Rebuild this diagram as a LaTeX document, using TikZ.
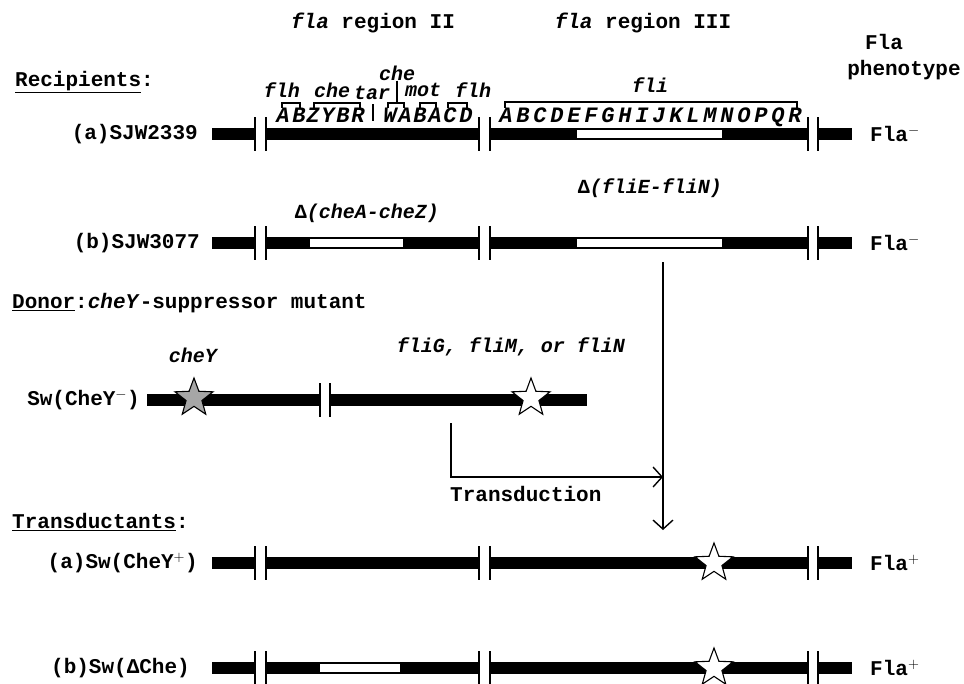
\documentclass[tikz,border=0pt]{standalone}
\usepackage{fontspec}
\setmainfont{Liberation Mono}
\usepackage{tikz}
\usetikzlibrary{shapes.geometric, arrows.meta, positioning}

\begin{document}
\begin{tikzpicture}[x=1pt, y=-1pt,
  txt/.style={font=\fontsize{21}{24}\selectfont\bfseries, inner sep=0pt},
  gene/.style={font=\fontsize{20}{24}\selectfont\bfseries\itshape, inner sep=0pt},
  letter/.style={font=\fontsize{22}{24}\selectfont\bfseries\itshape, inner sep=0pt, anchor=base},
  chrom/.style={line width=12pt},
  brk/.style={line width=1.2pt},
  mutstar/.style={star, star points=5, star point ratio=2.4, minimum size=40pt, inner sep=0pt, draw, line width=1.1pt, fill=white},
  arrow/.style={-{Straight Barb[length=9pt, width=20pt]}, line width=1.4pt}
]
  \useasboundingbox[fill=white] (0,0) rectangle (964,683);

  % titles
  \node[txt] (reg2) at (373,23) {\textit{fla} region II};
  \node[txt] (reg3) at (643,23) {\textit{fla} region III};
  \node[txt] (fla) at (884,42) {Fla};
  \node[txt] (pheno) at (904,70) {phenotype};
  \node[txt, anchor=west] (recip) at (15,82) {\underline{Recipients}:};

  % chromosomes, four rows with the same breaks
  \foreach \y in {134,243,563,668} {
    \draw[chrom] (212,\y) -- (255,\y) (266,\y) -- (479,\y) (490,\y) -- (808,\y) (818,\y) -- (852,\y);
    \foreach \x in {255,266,479,490,808,818}
      \draw[brk] (\x,\y-17) -- (\x,\y+17);
  }
  % deletions
  \fill[white] (577,130) rectangle (722,138);
  \fill[white] (310,239) rectangle (403,247);
  \fill[white] (577,239) rectangle (722,247);
  \fill[white] (320,664) rectangle (400,672);

  % gene map of region II
  \node[gene] (flh1) at (282,90) {flh};
  \node[gene] (che1) at (332,90) {che};
  \node[gene] (tar) at (372,93) {tar};
  \node[gene] (che2) at (397,73) {che};
  \node[gene] (mot) at (423,90) {mot};
  \node[gene] (flh2) at (473,90) {flh};
  \draw[brk] (282,108) -- (282,103) -- (300,103) -- (300,108);
  \draw[brk] (314,108) -- (314,103) -- (360,103) -- (360,108);
  \draw[brk] (388,108) -- (388,103) -- (404,103) -- (404,108);
  \draw[brk] (420,108) -- (420,103) -- (436,103) -- (436,108);
  \draw[brk] (448,108) -- (448,103) -- (467,103) -- (467,108);
  \draw[brk] (che2.south) -- (che2.south |- 0,103);
  \draw[brk] (373,104) -- (373,121);
  \foreach \l/\x in {A/283, B/299, Z/313, Y/328, B/343, R/358, W/390, A/405, B/420, A/435, C/450, D/466}
    \node[letter] (g\x) at (\x,122) {\l};

  % gene map of region III
  \node[gene] (fli) at (650,85) {fli};
  \draw[brk] (505,108) -- (505,102) -- (797,102) -- (797,108);
  \foreach \l [count=\i from 0] in {A,...,R}
    \node[letter] (fli\l) at (506+17*\i,122) {\l};

  % recipients
  \node[txt, anchor=east] (sjwa) at (198,134) {(a)SJW2339};
  \node[txt, anchor=west] (phena) at (870,134) {Fla$^{-}$};
  \node[gene] (delfli) at (650,188) {\textup{Δ}(fliE-fliN)};
  \node[gene] (delche) at (367,213) {\textup{Δ}(cheA-cheZ)};
  \node[txt, anchor=east] (sjwb) at (200,243) {(b)SJW3077};
  \node[txt, anchor=west] (phenb) at (870,243) {Fla$^{-}$};

  % donor
  \node[txt, anchor=west] (donor) at (12,303) {\underline{Donor}:\textit{cheY}-suppressor mutant};
  \node[gene] (cheylbl) at (193,355) {cheY};
  \node[gene] (supplbl) at (511,347) {fliG, fliM, or fliN};
  \node[txt, anchor=east] (swm) at (140,400) {Sw(CheY$^{-}$)};
  \draw[chrom] (147,400) -- (320,400) (330,400) -- (587,400);
  \foreach \x in {320,330}
    \draw[brk] (\x,383) -- (\x,417);
  \node[mutstar, fill=black!35] (stary) at (194,398) {};
  \node[mutstar] (starg) at (531,398) {};

  % transduction
  \coordinate (tdtop) at (451,423);
  \coordinate (tdhead) at (663,477);
  \draw[arrow] (tdtop) |- (tdhead);
  \node[txt, anchor=north west] (tdlbl) at (450,486) {Transduction};
  \coordinate (vtop) at (663,262);
  \coordinate (vtip) at (663,530);
  \draw[arrow] (vtop) -- (vtip);

  % transductants
  \node[txt, anchor=west] (trans) at (12,522) {\underline{Transductants}:};
  \node[txt, anchor=east] (swa) at (198,563) {(a)Sw(CheY$^{+}$)};
  \node[txt, anchor=west] (phenc) at (870,563) {Fla$^{+}$};
  \node[mutstar] (stara) at (714,563) {};
  \node[txt, anchor=east] (swb) at (190,668) {(b)Sw(\textup{Δ}Che)};
  \node[txt, anchor=west] (phend) at (870,668) {Fla$^{+}$};
  \node[mutstar] (starb) at (714,668) {};
\end{tikzpicture}
\end{document}
